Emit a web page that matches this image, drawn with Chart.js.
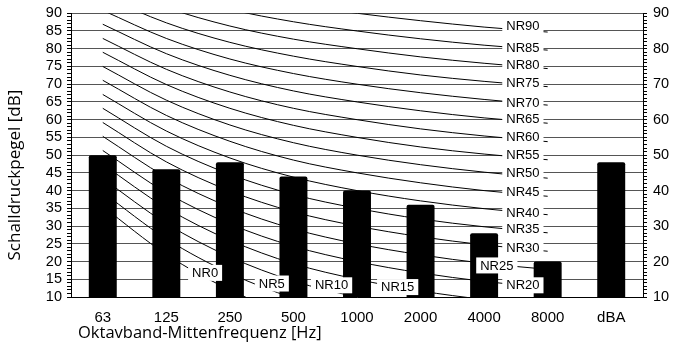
<!DOCTYPE html>
<html>
<head>
  <meta charset="utf-8">
  <title>NR-Kurven</title>
  <script src="https://cdn.jsdelivr.net/npm/chart.js@4/dist/chart.umd.min.js"></script>
  <style>body { margin: 0; background: #fff; }</style>
</head>
<body>
  <canvas id="chart" width="673" height="349"></canvas>
  <script>
  // Oktavbänder und gemessene Pegel
  const bands = ['63', '125', '250', '500', '1000', '2000', '4000', '8000', 'dBA'];
  const levels = [50, 46, 48, 44, 40, 36, 28, 20, 48];

  // NR-Kurven (63 ... 8000 Hz)
  const nrNames = ['NR0', 'NR5', 'NR10', 'NR15', 'NR20', 'NR25', 'NR30', 'NR35', 'NR40', 'NR45',
                   'NR50', 'NR55', 'NR60', 'NR65', 'NR70', 'NR75', 'NR80', 'NR85', 'NR90'];
  const nrCurves = [
    [35.5, 22.0, 12.0, 4.8, 0, -3.5, -6.1, -8.0],
    [39.5, 26.4, 16.7, 9.7, 5, 1.6, -1.0, -2.9],
    [43.4, 30.7, 21.3, 14.5, 10, 6.7, 4.2, 2.3],
    [47.4, 35.1, 26.0, 19.4, 15, 11.7, 9.3, 7.5],
    [51.3, 39.4, 30.6, 24.3, 20, 16.8, 14.4, 12.6],
    [55.3, 43.8, 35.3, 29.2, 25, 21.9, 19.5, 17.8],
    [59.2, 48.1, 39.9, 34.0, 30, 27.0, 24.7, 22.9],
    [63.2, 52.5, 44.6, 38.9, 35, 32.0, 29.8, 28.1],
    [67.1, 56.8, 49.2, 43.8, 40, 37.1, 34.9, 33.2],
    [71.1, 61.2, 53.9, 48.6, 45, 42.2, 40.0, 38.4],
    [75.0, 65.5, 58.5, 53.5, 50, 47.3, 45.2, 43.5],
    [79.0, 69.9, 63.2, 58.4, 55, 52.3, 50.3, 48.7],
    [82.9, 74.2, 67.8, 63.2, 60, 57.4, 55.4, 53.8],
    [86.9, 78.6, 72.5, 68.1, 65, 62.5, 60.5, 59.0],
    [90.8, 82.9, 77.1, 73.0, 70, 67.6, 65.7, 64.1],
    [94.8, 87.3, 81.8, 77.9, 75, 72.6, 70.8, 69.3],
    [98.7, 91.6, 86.4, 82.7, 80, 77.7, 75.9, 74.4],
    [102.7, 96.0, 91.1, 87.6, 85, 82.8, 81.0, 79.6],
    [106.6, 100.3, 95.7, 92.5, 90, 87.9, 86.1, 84.7]
  ];

  // wo die Beschriftungen sitzen (Band-Index, Pegel)
  const labelIdx = [1.61, 2.66, 3.60, 4.64, 6.61, 6.20, 6.61, 6.61, 6.61, 6.61,
                    6.61, 6.61, 6.61, 6.61, 6.61, 6.61, 6.61, 6.61, 6.61];
  const labelVal = [16.8, 13.8, 13.3, 12.8, 13.3, 18.9, 23.9, 29.2, 33.6, 39.5,
                    44.85, 50.0, 55.0, 60.1, 64.8, 70.25, 75.3, 80.25, 86.3];

  const tickFont = { family: '"Liberation Sans", Arial, sans-serif', size: 14.5, lineHeight: 1 };
  const titleFont = '"Open Sans", sans-serif';

  const nrLabels = {
    id: 'nrLabels',
    afterDatasetsDraw(chart) {
      const { ctx, scales: { x, y } } = chart;
      ctx.save();
      ctx.font = '13px "Liberation Sans", Arial, sans-serif';
      ctx.textAlign = 'center';
      ctx.textBaseline = 'middle';
      nrNames.forEach(function(name, i) {
        const px = x.getPixelForValue(labelIdx[i]);
        const py = y.getPixelForValue(labelVal[i]);
        const w = ctx.measureText(name).width + 8;
        ctx.fillStyle = '#fff';
        ctx.fillRect(px - w / 2, py - 8, w, 16);
        ctx.fillStyle = '#000';
        ctx.fillText(name, px, py + 0.5);
      });
      ctx.restore();
    }
  };

  // Achsentitel wie im Original: x linksbündig, y etwas unter der Mitte
  const axisTitles = {
    id: 'axisTitles',
    afterDraw(chart) {
      const { ctx, chartArea } = chart;
      ctx.save();
      ctx.fillStyle = '#000';
      ctx.textBaseline = 'middle';
      ctx.font = '16.5px ' + titleFont;
      ctx.textAlign = 'left';
      ctx.fillText('Oktavband-Mittenfrequenz [Hz]', chartArea.left + 7, chartArea.bottom + 36);
      ctx.translate(15, (chartArea.top + chartArea.bottom) / 2 + 20);
      ctx.rotate(-Math.PI / 2);
      ctx.font = '17px ' + titleFont;
      ctx.textAlign = 'center';
      ctx.fillText('Schalldruckpegel [dB]', 0, 0);
      ctx.restore();
    }
  };

  const datasets = [{
    type: 'bar',
    data: levels,
    backgroundColor: '#000',
    borderRadius: 2,
    barPercentage: 0.44,
    categoryPercentage: 1,
    order: 0
  }];
  nrCurves.forEach(function(curve) {
    datasets.push({
      type: 'line',
      data: curve,
      borderColor: '#000',
      borderWidth: 1,
      pointRadius: 0,
      cubicInterpolationMode: 'monotone',
      order: 1
    });
  });

  new Chart(document.getElementById('chart'), {
    type: 'bar',
    data: { labels: bands, datasets: datasets },
    plugins: [nrLabels, axisTitles],
    options: {
      responsive: false,
      animation: false,
      layout: { padding: { top: 12, right: 0, bottom: 0, left: 0 } },
      plugins: { legend: { display: false }, tooltip: { enabled: false } },
      scales: {
        x: {
          grid: { display: false },
          border: { color: '#000', width: 1 },
          ticks: { color: '#000', font: { family: '"Liberation Sans", Arial, sans-serif', size: 15 }, padding: 4 },
          afterFit(scale) { scale.height = 52; }
        },
        y: {
          min: 10, max: 90,
          ticks: {
            stepSize: 1, autoSkip: false, color: '#000', font: tickFont, padding: 5,
            callback: v => (v % 5 === 0 ? v : '')
          },
          grid: {
            color: c => (c.tick && c.tick.value % 5 === 0 ? '#555' : 'rgba(0,0,0,0)'),
            tickColor: '#000', tickLength: 4, lineWidth: 1
          },
          border: { color: '#000', width: 1 },
          afterFit(scale) { scale.width = 71; }
        },
        y2: {
          position: 'right',
          min: 10, max: 90,
          ticks: {
            stepSize: 1, autoSkip: false, color: '#000', font: tickFont, padding: 6,
            callback: v => (v % 10 === 0 ? v : '')
          },
          grid: { drawOnChartArea: false, tickColor: '#000', tickLength: 4 },
          border: { color: '#000', width: 1 },
          afterFit(scale) { scale.width = 30; }
        }
      }
    }
  });
  </script>
</body>
</html>
